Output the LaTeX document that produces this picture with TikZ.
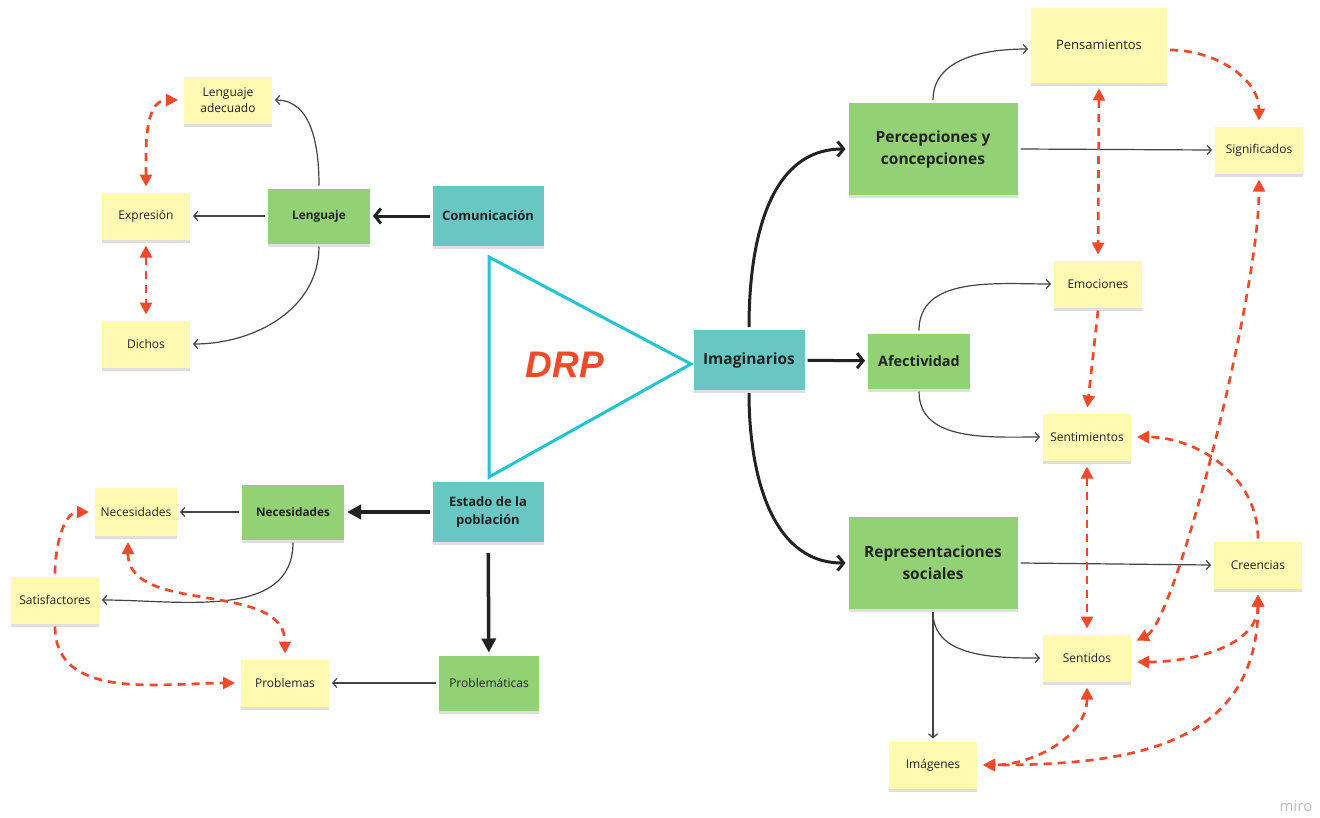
\documentclass[tikz,border=0pt]{standalone}
\usepackage{fontspec}
\setmainfont{Open Sans}
\newfontfamily\drpfont{Liberation Sans}
\usetikzlibrary{arrows.meta, shadows}

\definecolor{notayellow}{HTML}{FFF9B1}
\definecolor{notagreen}{HTML}{92D275}
\definecolor{notateal}{HTML}{68C6C3}
\definecolor{drpcyan}{HTML}{23C4D1}
\definecolor{linkred}{HTML}{F04A2B}
\definecolor{inkgray}{HTML}{222222}

\begin{document}
\begin{tikzpicture}[x = 1pt, y = -1pt,
        every node/.style = {text = inkgray, align = center, inner sep = 0pt, outer sep = 3pt},
        note/.style = {fill = notayellow, minimum width = 88pt, minimum height = 47pt,
            font = \fontsize{12}{16.5}\selectfont,
            drop shadow = {shadow xshift = 0pt, shadow yshift = -3pt, opacity = 0.25}},
        greennote/.style = {note, fill = notagreen, minimum width = 102pt, minimum height = 55pt,
            font = \fontsize{11.8}{17}\selectfont\bfseries},
        tealnote/.style = {greennote, fill = notateal, minimum width = 111pt, minimum height = 60pt,
            font = \fontsize{13}{18}\selectfont\bfseries},
        bignote/.style = {greennote, minimum width = 169pt, minimum height = 92pt,
            font = \fontsize{15.5}{22}\selectfont\bfseries},
        link/.style = {draw = inkgray!85, line width = 1.2pt, -{Straight Barb[length = 4pt, width = 9pt]}},
        mainlink/.style = {draw = inkgray, line width = 3pt, -{Straight Barb[length = 6pt, width = 15pt]}},
        mainfill/.style = {draw = inkgray, line width = 3.5pt, -{Triangle[length = 14pt, width = 14pt]}},
        redlink/.style = {draw = linkred, line width = 2.7pt, dash pattern = on 8pt off 6pt,
            -{Triangle[length = 12pt, width = 12pt]}, shorten > = 3pt},
        redboth/.style = {redlink, {Triangle[length = 12pt, width = 12pt]}-{Triangle[length = 12pt, width = 12pt]},
            shorten < = 3pt}
    ]
    \useasboundingbox [fill = white] (0, 0) rectangle (1320, 817);

    % centro
    \draw [drpcyan, line width = 3pt, line join = miter] (489, 257) -- (691, 364) -- (489, 477) -- cycle;
    \node (drp) at (565, 365) {\drpfont\fontsize{37}{40}\selectfont\bfseries\itshape\color{linkred}DRP};
    \node [tealnote] (comunicacion) at (488, 216) {Comunicación};
    \node [tealnote] (estado) at (488, 512) {Estado de la\\población};
    \node [tealnote, font = \fontsize{15.5}{20}\selectfont\bfseries] (imaginarios) at (749, 360) {Imaginarios};

    % lenguaje
    \node [greennote] (lenguaje) at (319, 216) {Lenguaje};
    \node [note] (adecuado) at (228, 100) {Lenguaje\\adecuado};
    \node [note] (expresion) at (146, 216) {Expresión};
    \node [note] (dichos) at (146, 344) {Dichos};

    % necesidades
    \node [greennote] (necesidades) at (293, 512) {Necesidades};
    \node [note, minimum width = 82pt, minimum height = 48pt] (necesidadesnota) at (136, 512) {Necesidades};
    \node [note] (satisfactores) at (55, 600) {Satisfactores};
    \node [greennote, minimum width = 100pt, font = \fontsize{12}{16}\selectfont] (problematicas) at (489, 683) {Problemáticas};
    \node [note] (problemas) at (285, 683) {Problemas};

    % imaginarios
    \node [bignote] (percepciones) at (933, 149) {Percepciones y\\concepciones};
    \node [greennote, font = \fontsize{14.4}{18}\selectfont\bfseries] (afectividad) at (919, 361) {Afectividad};
    \node [bignote] (representaciones) at (933, 563) {Representaciones\\sociales};
    \node [note, minimum width = 136pt, minimum height = 75pt, font = \fontsize{13}{16}\selectfont] (pensamientos) at (1099, 45) {Pensamientos};
    \node [note] (significados) at (1259, 150) {Significados};
    \node [note] (emociones) at (1098, 284) {Emociones};
    \node [note] (sentimientos) at (1087, 437) {Sentimientos};
    \node [note] (creencias) at (1258, 565) {Creencias};
    \node [note] (sentidos) at (1087, 658) {Sentidos};
    \node [note] (imagenes) at (933, 765) {Imágenes};

    \node [text = black!25, font = \fontsize{15}{15}\selectfont] (miro) at (1296, 806) {miro};

    % flechas principales
    \draw [mainlink] (comunicacion) -- (lenguaje);
    \draw [mainfill] (estado) -- (necesidades);
    \draw [mainfill, shorten < = 8pt] (estado) -- (problematicas);
    \draw [mainlink] (imaginarios.north) to [out = 90, in = 180] (percepciones.west);
    \draw [mainlink] (imaginarios) -- (afectividad);
    \draw [mainlink] (imaginarios.south) to [out = -90, in = 180] (representaciones.west);

    % flechas finas
    \draw [link] (lenguaje) -- (expresion);
    \draw [link] (lenguaje.north) to [out = 90, in = 0] (adecuado.east);
    \draw [link] (lenguaje.south) to [out = -90, in = 0] (dichos.east);
    \draw [link] (necesidades) -- (necesidadesnota);
    \draw [link] (necesidades.south) to [out = -90, in = 0] (satisfactores.east);
    \draw [link] (problematicas) -- (problemas);
    \draw [link] (percepciones.north) to [out = 90, in = 180] ([yshift = -4pt]pensamientos.west);
    \draw [link] (percepciones.east) -- (significados.west);
    \draw [link] (afectividad.north) to [out = 90, in = 180] (emociones.west);
    \draw [link] (afectividad.south) to [out = -90, in = 180] (sentimientos.west);
    \draw [link] (representaciones.east) -- (creencias.west);
    \draw [link] (representaciones.south) to [out = -90, in = 180] (sentidos.west);
    \draw [link] (representaciones.south) -- (imagenes.north);

    % relaciones punteadas
    \draw [redboth] (expresion.north) to [out = 90, in = 180] (adecuado.west);
    \draw [redboth] (expresion) -- (dichos);
    \draw [redlink] (satisfactores.north) to [out = 90, in = 180] (necesidadesnota.west);
    \draw [redlink] (satisfactores.south) to [out = -90, in = 180] (problemas.west);
    \draw [redboth] ([xshift = -8pt]necesidadesnota.south) to [out = -90, in = 90] (problemas.north);
    \draw [redlink] ([yshift = -5pt]pensamientos.east) to [out = 0, in = 90] (significados.north);
    \draw [redboth] (pensamientos.south) -- (emociones.north);
    \draw [redlink] (emociones.south) -- (sentimientos.north);
    \draw [redlink] (creencias.north) to [out = 90, in = 0] (sentimientos.east);
    \draw [redboth] (sentimientos) -- (sentidos);
    \draw [redboth] ([yshift = 16pt]sentidos.east) to [out = 27, in = -90, out distance = 47pt, in distance = 118pt] (significados.south);
    \draw [redboth] (creencias.south) to [out = -90, in = 0] ([yshift = -4pt]sentidos.east);
    \draw [redboth] (sentidos.south) to [out = -90, in = 0] (imagenes.east);
    \draw [redboth] (creencias.south) to [out = -90, in = 0, looseness = 1.2] (imagenes.east);
\end{tikzpicture}
\end{document}
